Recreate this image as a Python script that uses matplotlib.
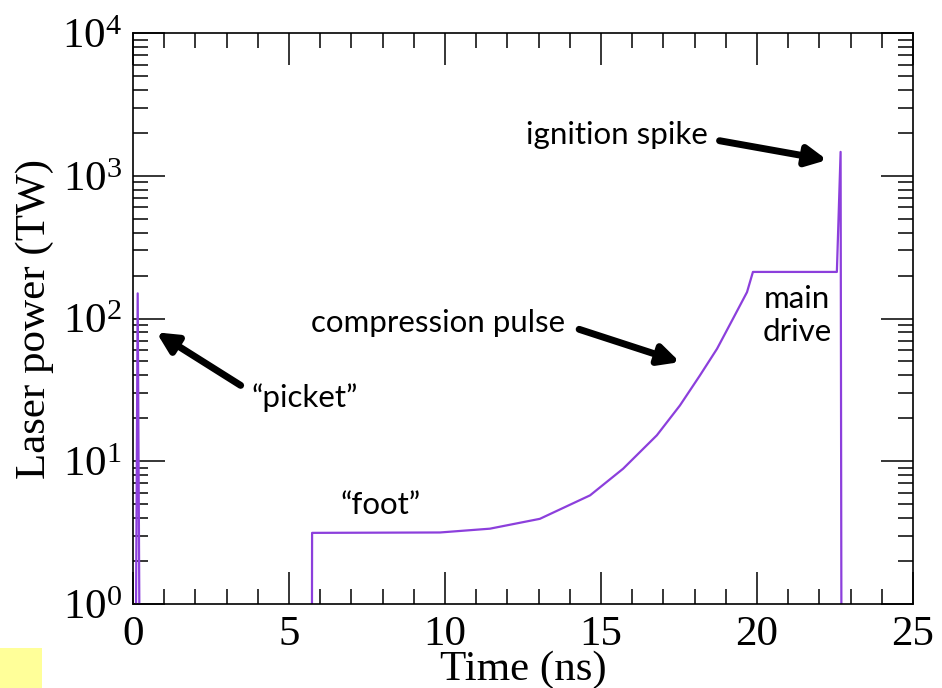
import numpy as np
import matplotlib.pyplot as plt
from matplotlib.ticker import MultipleLocator, LogLocator, NullFormatter
from matplotlib.patches import Rectangle

# Laser pulse shape (time in ns, power in TW)
time = [0.0, 0.05, 0.15, 0.25, 5.72, 5.74, 9.84, 11.44, 13.04, 14.65,
        15.71, 16.79, 17.53, 18.17, 18.72, 19.23, 19.68, 19.87, 22.56,
        22.68, 22.72, 25.0]
power = [0.01, 0.01, 150, 0.01, 0.01, 3.15, 3.17, 3.37, 3.95, 5.77,
         8.87, 15.2, 24.6, 39.9, 61.4, 99.6, 153, 212, 212,
         1470, 0.01, 0.01]

# annotation labels: text, text position, arrow tail, arrow tip
labels = ['ignition spike', 'compression pulse', 'main\ndrive', '\u201cpicket\u201d', '\u201cfoot\u201d']
label_pos = [(15.5, 1930), (9.78, 93), (21.28, 105), (5.51, 28), (7.92, 4.94)]
arrow_tails = [(18.8, 1760), (14.3, 84), None, (3.45, 34), None]
arrow_tips = [(22.25, 1290), (17.53, 49.5), None, (0.75, 80), None]

plt.rcParams['font.family'] = ['Liberation Serif', 'DejaVu Serif']
plt.rcParams['mathtext.default'] = 'regular'

fig = plt.figure(figsize=(9.42, 6.88), dpi=100)
ax = fig.add_axes([0.1412, 0.1221, 0.828, 0.8299])

ax.plot(time, power, color='#8c3fdc', lw=1.6)
ax.set_yscale('log')
ax.set_xlim(0, 25)
ax.set_ylim(1, 1e4)

ax.xaxis.set_major_locator(MultipleLocator(5))
ax.xaxis.set_minor_locator(MultipleLocator(1))
ax.yaxis.set_minor_locator(LogLocator(base=10, subs=np.arange(2, 10), numticks=10))
ax.yaxis.set_minor_formatter(NullFormatter())
ax.set_yticks([1, 10, 100, 1000, 10000])
ax.set_yticklabels(['$10^{%d}$' % i for i in range(5)])

ax.tick_params(which='both', direction='in', top=True, right=True, width=1.1)
ax.tick_params(which='major', length=23, labelsize=31, pad=8)
ax.tick_params(which='minor', length=11)
for s in ax.spines.values():
    s.set_linewidth(1.2)

ax.set_xlabel('Time (ns)', fontsize=31, labelpad=-2)
ax.set_ylabel('Laser power (TW)', fontsize=31, labelpad=6)

for txt, pos, tail, tip in zip(labels, label_pos, arrow_tails, arrow_tips):
    ax.text(pos[0], pos[1], txt, fontsize=22.5, family='Lato',
            ha='center', va='center', linespacing=1.2)
    if tail is not None:
        ax.annotate('', xy=tip, xytext=tail,
                    arrowprops=dict(arrowstyle='-|>,head_length=1.2,head_width=0.6',
                                    color='black', lw=5, shrinkA=0, shrinkB=0))

# yellow box at bottom left corner
fig.patches.append(Rectangle((0, 0), 42 / 942, 40 / 688, transform=fig.transFigure,
                             facecolor='#ffff99', edgecolor='none'))

fig.savefig('out.png', dpi=100)
